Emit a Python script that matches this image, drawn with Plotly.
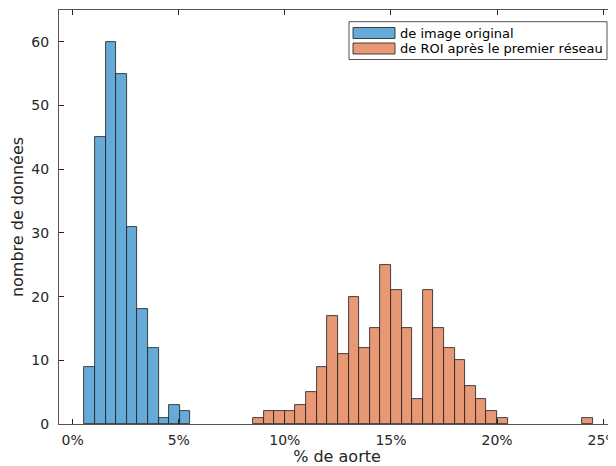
import plotly.graph_objects as go

# ---- data ----
blue_centers = [0.8, 1.3, 1.8, 2.3, 2.8, 3.3, 3.8, 4.3, 4.8, 5.3]
blue_counts = [9, 45, 60, 55, 31, 18, 12, 1, 3, 2]

orange_centers = [8.75, 9.25, 9.75, 10.25, 10.75, 11.25, 11.75, 12.25, 12.75, 13.25,
                  13.75, 14.25, 14.75, 15.25, 15.75, 16.25, 16.75, 17.25, 17.75, 18.25,
                  18.75, 19.25, 19.75, 20.25, 24.25]
orange_counts = [1, 2, 2, 2, 3, 5, 9, 17, 11, 20,
                 12, 15, 25, 21, 15, 4, 21, 15, 12, 10,
                 6, 4, 2, 1, 1]
bin_width = 0.5

x_ticks = [0, 5, 10, 15, 20, 25]
x_tick_labels = ["0%", "5%", "10%", "15%", "20%", "25%"]
y_ticks = [0, 10, 20, 30, 40, 50, 60]

series_names = ["de image original", "de ROI après le premier réseau"]
colors = ["#66AAD7", "#E89875"]

# page body has an 8px default margin -> shift everything by OFF
OFF = 8
W, H = 616 - OFF, 466 - OFF
# plot area in reference (window) pixels: x 59..615, y 10..424
PL, PR, PT, PB = 59, 615, 10, 424
ML, MT = PL - OFF, PT - OFF
MR, MB = W - (PR - OFF), H - (PB - OFF)

fig = go.Figure()
fig.add_trace(go.Bar(x=blue_centers, y=blue_counts, width=bin_width,
                     marker=dict(color=colors[0], line=dict(color="#1a1a1a", width=0.8)),
                     name=series_names[0], showlegend=False))
fig.add_trace(go.Bar(x=orange_centers, y=orange_counts, width=bin_width,
                     marker=dict(color=colors[1], line=dict(color="#1a1a1a", width=0.8)),
                     name=series_names[1], showlegend=False))

# manual legend (MATLAB style), positioned in window pixels -> paper
def px(x):
    return (x - PL) / (PR - PL)
def py(y):
    return (PB - y) / (PB - PT)

shapes = [
    dict(type="rect", xref="paper", yref="paper", x0=px(349), x1=px(607), y0=py(59.5), y1=py(21.7),
         line=dict(color="#262626", width=0.8), fillcolor="white", layer="above"),
]
rows = [(27.5, 38.5, 33), (43, 54, 48.5)]
annotations = []
for (t, b, c), name, col in zip(rows, series_names, colors):
    shapes.append(dict(type="rect", xref="paper", yref="paper", x0=px(353), x1=px(395),
                       y0=py(b), y1=py(t), line=dict(color="#1a1a1a", width=0.8),
                       fillcolor=col, layer="above"))
    annotations.append(dict(text=name, xref="paper", yref="paper", x=px(398), y=py(c),
                            xanchor="left", yanchor="middle", showarrow=False,
                            font=dict(family="DejaVu Sans", size=13, color="#000000")))

fig.update_layout(
    width=W, height=H,
    margin=dict(l=ML, r=MR, t=MT, b=MB, autoexpand=False),
    paper_bgcolor="white", plot_bgcolor="white",
    barmode="overlay", bargap=0,
    font=dict(family="DejaVu Sans", size=14, color="#262626"),
    shapes=shapes, annotations=annotations,
    xaxis=dict(range=[-0.646, 25.56], tickvals=x_ticks, ticktext=x_tick_labels,
               ticks="inside", ticklen=5, tickcolor="#262626", tickwidth=0.8,
               showline=True, linecolor="#555555", linewidth=1, mirror="ticks",
               showgrid=False, zeroline=False, ticklabelstandoff=3,
               ticklabeloverflow="allow",
               title=dict(text="% de aorte", font=dict(size=16), standoff=4)),
    yaxis=dict(range=[0, 65], tickvals=y_ticks,
               ticks="inside", ticklen=5, tickcolor="#262626", tickwidth=0.8,
               showline=True, linecolor="#555555", linewidth=1, mirror="ticks",
               showgrid=False, zeroline=False, ticklabelstandoff=6,
               title=dict(text="nombre de données", font=dict(size=16), standoff=4)),
)

fig.write_html("out.html")
